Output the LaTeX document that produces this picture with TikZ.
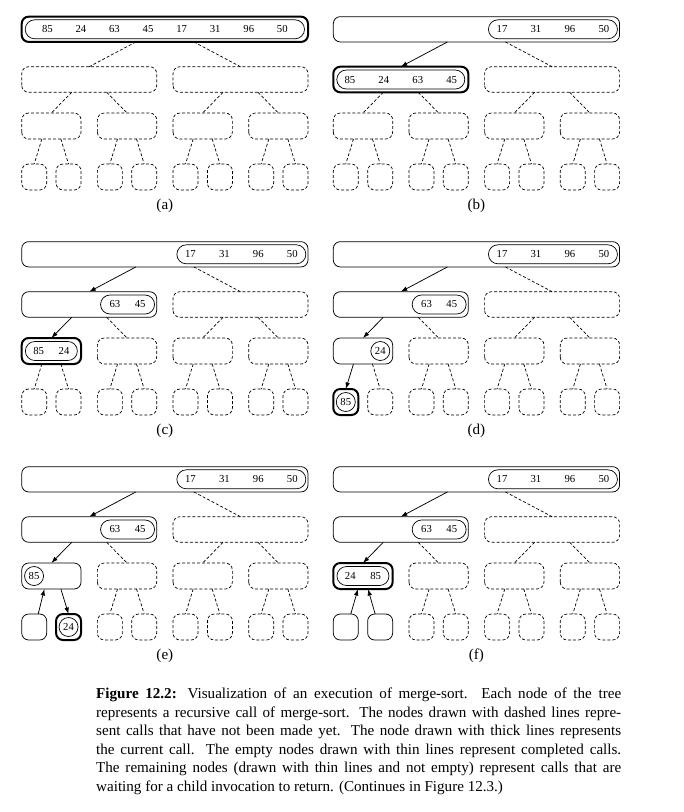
\documentclass[tikz,border=0pt]{standalone}
\usepackage{fontspec}
\setmainfont{Liberation Serif}
\usetikzlibrary{arrows.meta,calc,positioning}

\tikzset{
  slot/.style={inner sep=0pt, outer sep=0pt},
  dashbox/.style={line width=0.7pt, dash pattern=on 3pt off 2pt, rounded corners=7pt},
  thinbox/.style={line width=0.75pt, rounded corners=7pt},
  thickbox/.style={line width=2pt, rounded corners=7pt},
  vals/.style={draw, line width=0.7pt, rounded corners=9.5pt, minimum height=19pt,
    inner sep=0pt, font=\fontsize{10.7}{12}\selectfont},
  later/.style={line width=0.7pt, dash pattern=on 3pt off 2pt},
  call/.style={line width=0.75pt, -{Latex[length=6.5pt,width=4.5pt]}},
}
% heap index / x / y / width / height, inside one panel
\newcommand\slots{1/164.85/29.3/286.3/25.3, 2/89.2/79.5/135/25.6, 3/240.5/79.5/135/25.6,
  4/51.375/126/59.35/26, 5/127.03/126/59.35/26, 6/202.68/126/59.35/26, 7/278.33/126/59.35/26,
  8/34.2/177/25/26, 9/68.55/177/25/26, 10/109.85/177/25/26, 11/144.2/177/25/26,
  12/185.5/177/25/26, 13/219.9/177/25/26, 14/261.15/177/25/26, 15/295.5/177/25/26}

\begin{document}
\begin{tikzpicture}[x=1pt,y=-1pt]
  \useasboundingbox (0,0) rectangle (684,812);
  \foreach \p/\ox/\oy in {a/0/0, b/311.6/0, c/0/225, d/311.6/225, e/0/450, f/311.6/450} {
    \foreach \n/\x/\y/\w/\h in \slots
      \node[slot, minimum width=\w, minimum height=\h] (\p\n) at (\ox+\x,\oy+\y) {};
    \node[font=\fontsize{15.1}{18}\selectfont] (\p lab) at (\ox+164.85,\oy+206) {(\p)};
  }
  % calls not made yet
  \foreach \p/\later in {a/{2,...,15}, b/{3,...,15}, c/{3,5,6,...,15}, d/{3,5,6,7,9,10,...,15},
      e/{3,5,6,7,10,11,...,15}, f/{3,5,6,7,10,11,...,15}}
    \foreach \n in \later {
      \pgfmathtruncatemacro\pn{\n/2}
      \pgfmathsetmacro\dx{(\n<4 ? 29 : (\n<8 ? 17.5 : 9.5))*(mod(\n,2)==0 ? -1 : 1)}
      \draw[dashbox] (\p\n.south west) rectangle (\p\n.north east);
      \draw[later] ($(\p\pn.south)+(\dx,0)$) -- (\p\n.north);
    }
  \foreach \b in {b1,c1,c2,d1,d2,d4,e1,e2,e4,e8,f1,f2,f8,f9}
    \draw[thinbox] (\b.south west) rectangle (\b.north east);
  \foreach \b in {a1,b2,c4,d8,e9,f4}
    \draw[thickbox] (\b.south west) rectangle (\b.north east);
  % values
  \node[vals, minimum width=279.3] (a1v) at (a1) {\hbox to 245.7pt{85\hfil 24\hfil 63\hfil 45\hfil 17\hfil 31\hfil 96\hfil 50}};
  \node[vals, minimum width=128] (b2v) at (b2) {\hbox to 112.5pt{85\hfil 24\hfil 63\hfil 45}};
  \node[vals, minimum width=52] (c4v) at (c4) {\hbox to 36pt{85\hfil 24}};
  \node[vals, minimum width=19] (d8v) at (d8) {85};
  \node[vals, minimum width=19] (e9v) at (e9) {24};
  \node[vals, minimum width=52] (f4v) at (f4) {\hbox to 36pt{24\hfil 85}};
  \foreach \p in {b,...,f}
    \node[vals, minimum width=129, anchor=east] (\p1v) at ($(\p1.east)+(-1.8,0)$) {\hbox to 112.5pt{17\hfil 31\hfil 96\hfil 50}};
  \foreach \p in {c,...,f}
    \node[vals, minimum width=54, anchor=east] (\p2v) at ($(\p2.east)+(-1.8,0)$) {\hbox to 36pt{63\hfil 45}};
  \node[vals, minimum width=19, anchor=east] (d4v) at ($(d4.east)+(-2.5,0)$) {24};
  \node[vals, minimum width=19, anchor=west] (e4v) at ($(e4.west)+(2.5,0)$) {85};
  % calls and returns
  \foreach \p/\u/\n/\dx in {b/1/2/-29, c/1/2/-29, c/2/4/-17.5, d/1/2/-29, d/2/4/-17.5, d/4/8/-9.5,
      e/1/2/-29, e/2/4/-17.5, e/4/9/9.5, f/1/2/-29, f/2/4/-17.5}
    \draw[call] ($(\p\u.south)+(\dx,0)$) -- (\p\n.north);
  \draw[call] ($(e8.north)+(4,0)$) -- ($(e4.south)+(-7,0)$);
  \draw[call] ($(f8.north)+(5,0)$) -- ($(f4.south)+(-5,0)$);
  \draw[call] ($(f9.north)+(-5,0)$) -- ($(f4.south)+(5,0)$);
  \node[anchor=north west, inner sep=0pt, text width=525pt, align=justify,
    font=\fontsize{15.1}{18.5}\selectfont] (caption) at (96,688)
    {\tolerance=9999 \textbf{Figure 12.2:} Visualization of an execution of merge-sort.  Each node of the tree\linebreak
    represents a recursive call of merge-sort. The nodes drawn with dashed lines repre-\linebreak
    sent calls that have not been made yet. The node drawn with thick lines represents\linebreak
    the current call. The empty nodes drawn with thin lines represent completed calls.\linebreak
    The remaining nodes (drawn with thin lines and not empty) represent calls that are\linebreak
    waiting for a child invocation to return. (Continues in Figure 12.3.)};
\end{tikzpicture}
\end{document}
